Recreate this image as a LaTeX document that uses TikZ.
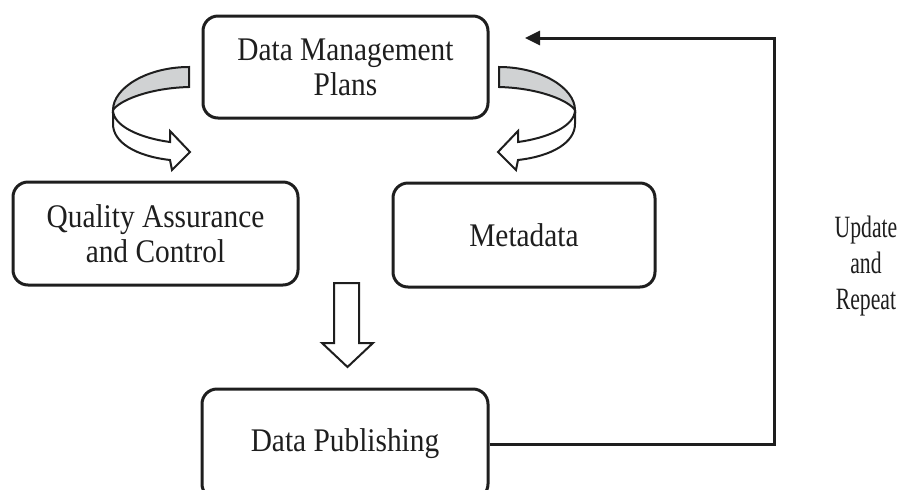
\documentclass[tikz,border=0pt]{standalone}
\usepackage{fontspec}
\setmainfont{Liberation Serif}[FakeStretch=0.89]
\newfontfamily\narrowserif{Liberation Serif}[FakeStretch=0.7]
\usetikzlibrary{arrows.meta}
\definecolor{ribbongray}{RGB}{208,210,211}
\definecolor{inkc}{RGB}{30,30,30}
\newcommand\ribbonarrow{%
  \draw[ribbon, fill=ribbongray] (189,67) .. controls (147,67) and (113,88) .. (113,110)
     .. controls (120,100) and (150,88) .. (189,87) -- cycle;
  \draw[ribbon, fill=white] (113,110) .. controls (113,126) and (140,138) .. (170,142)
     -- (170,131) -- (190,152) -- (172,170) -- (170,160)
     .. controls (135,156) and (113,142) .. (113,124) -- cycle;
}
\begin{document}
\begin{tikzpicture}[x=0.5pt,y=-0.5pt,
  box/.style={draw=inkc, line width=1.5pt, rounded corners=7.5pt, align=center,
    inner sep=0pt, text=inkc, font=\fontsize{16.5}{17.5}\selectfont},
  ribbon/.style={draw=inkc, line width=1pt, line join=miter},
  conn/.style={draw=inkc, line width=1.5pt, -{Triangle[length=7.5pt,width=7pt]}},
  lbl/.style={align=center, text=inkc, inner sep=0pt, font=\narrowserif\fontsize{15.5}{18}\selectfont}]
\clip (0,0) rectangle (902,489);
\node[box, minimum width=142.5pt, minimum height=51pt] (dmp) at (345.5,67) {Data Management\\Plans};
\node[box, minimum width=142.5pt, minimum height=51.5pt] (qa) at (155.5,233.5) {Quality Assurance\\and Control};
\node[box, minimum width=131pt, minimum height=52pt] (meta) at (524,235) {Metadata};
\node[box, minimum width=143pt, minimum height=55pt] (dp) at (345,444) {Data Publishing};
\node[lbl] (upd) at (866,266) {Update\\and\\Repeat};
% curved ribbon arrows
\ribbonarrow
\begin{scope}[shift={(688,0)}, xscale=-1]
  \ribbonarrow
\end{scope}
% block down arrow
\draw[ribbon, fill=white] (334,283) -- (359,283) -- (359,343) -- (373,343) -- (347.5,367)
  -- (322,343) -- (334,343) -- cycle;
% feedback connector
\coordinate (corner) at (774,38);
\coordinate (tip) at (525,38);
\draw[conn] (dp.east) -| (corner) -- (tip);
\end{tikzpicture}
\end{document}
